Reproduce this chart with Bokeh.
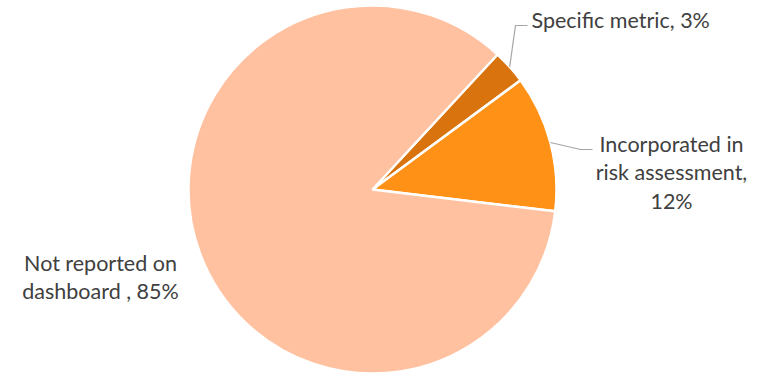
import numpy as np
from bokeh.plotting import figure
from bokeh.models import Range1d
from bokeh.core.properties import value
from bokeh.embed import file_html
from bokeh.resources import INLINE

# ---- data ----
categories = ["Specific metric", "Incorporated in risk assessment", "Not reported on dashboard "]
shares = [3, 12, 85]
colors = ["#D9730D", "#FF9117", "#FFC19F"]
label_lines = [["Specific metric, 3%"],
               ["Incorporated in", "risk assessment,", "12%"],
               ["Not reported on", "dashboard , 85%"]]

# ---- layout (pixel coords, y from top) ----
W, H = 759, 373
CX, CY, R = 372, 189, 184
START_DEG = 42.8  # clockwise from 12 o'clock
FONT = "Lato"
FONT_SIZE = "21.5px"
TEXT_COLOR = "#404040"
LINE_H = 28.5
label_anchor = [(531, 19, "left"), (671, 143, "center"), (100, 262, "center")]
leader_elbow = [(515, 25, 527), (580, 149, 592), None]

p = figure(width=W, height=H, x_range=Range1d(0, W), y_range=Range1d(0, H),
           output_backend="svg", toolbar_location=None, min_border=0)
p.axis.visible = False
p.grid.visible = False
p.outline_line_color = None
p.background_fill_color = "white"

fracs = np.array(shares, dtype=float) / sum(shares)
ends = START_DEG + np.cumsum(fracs) * 360
starts = ends - fracs * 360
sa = np.radians(90 - starts)
ea = np.radians(90 - ends)
p.wedge(x=CX, y=H - CY, radius=R, start_angle=sa, end_angle=ea, direction="clock",
        fill_color=colors, line_color="white", line_width=2.5)

mids = np.radians((starts + ends) / 2)
for i, lines in enumerate(label_lines):
    el = leader_elbow[i]
    if el is not None:
        x0 = CX + R * np.sin(mids[i])
        y0 = H - CY + R * np.cos(mids[i])
        ex, ey, hx = el
        p.line([x0, ex, hx], [y0, H - ey, H - ey], line_color="#A6A6A6", line_width=1.2)
    ax, ay, al = label_anchor[i]
    ys = [H - (ay + k * LINE_H) for k in range(len(lines))]
    p.text(x=[ax] * len(lines), y=ys, text=lines, text_align=al, text_baseline="middle",
           text_font=value(FONT), text_font_size=FONT_SIZE, text_color=TEXT_COLOR)

open("out.html", "w").write(file_html(p, INLINE))
